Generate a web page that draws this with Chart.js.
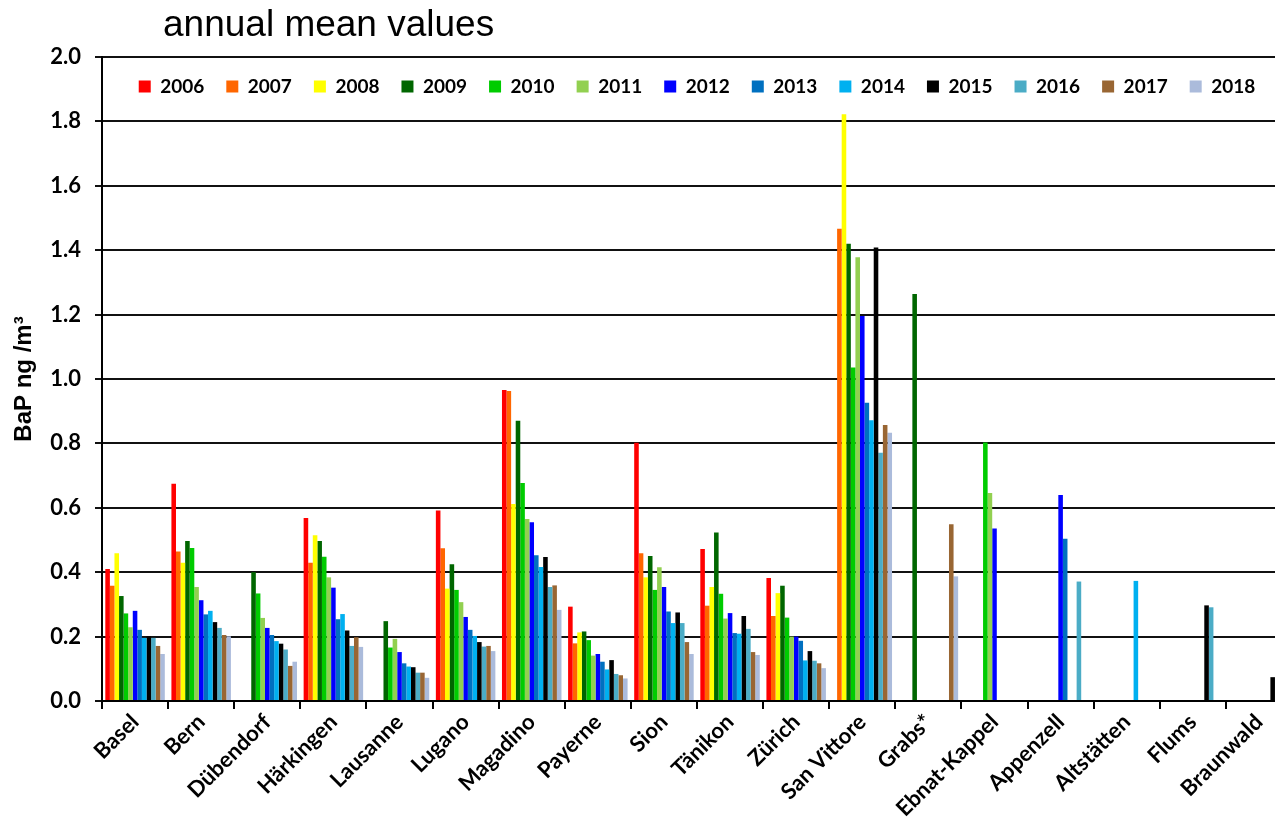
<!DOCTYPE html>
<html>
<head>
<meta charset="utf-8">
<title>BaP annual mean values</title>
<script src="https://cdn.jsdelivr.net/npm/chart.js@4.4.1/dist/chart.umd.min.js"></script>
<style>
  html, body { margin: 0; padding: 0; background: #fff; overflow: hidden; }
  #wrap { position: relative; width: 1300px; height: 834px; }
  #title {
    position: absolute; left: 163px; top: 5px;
    font: 37px/1 "Liberation Sans", Arial, sans-serif; color: #000;
    white-space: nowrap;
  }
</style>
</head>
<body>
<div id="wrap">
  <div id="title">annual mean values</div>
  <canvas id="chart" width="1300" height="834"></canvas>
</div>
<script>
// Stationen
const stations = ['Basel', 'Bern', 'Dübendorf', 'Härkingen', 'Lausanne', 'Lugano', 'Magadino', 'Payerne',
    'Sion', 'Tänikon', 'Zürich', 'San Vittore', 'Grabs*', 'Ebnat-Kappel', 'Appenzell', 'Altstätten',
    'Flums', 'Braunwald'];

const years = ['2006', '2007', '2008', '2009', '2010', '2011', '2012', '2013', '2014', '2015', '2016', '2017', '2018'];

const yearColors = ['#FF0000', '#FF6600', '#FFFF00', '#006600', '#00CC00', '#92D050', '#0000FF',
    '#0070C0', '#00B0F0', '#000000', '#4BACC6', '#996633', '#ABBBDB'];

const yTicks = [0, 0.2, 0.4, 0.6, 0.8, 1.0, 1.2, 1.4, 1.6, 1.8, 2.0];

// Jahresmittel BaP ng/m3, eine Liste pro Jahr (Reihenfolge wie stations)
const v2006 = [0.410, 0.675, null, 0.568, null, 0.592, 0.966, 0.293, 0.802, 0.472, 0.382, null, null, null, null, null, null, null];
const v2007 = [0.358, 0.464, null, 0.429, null, 0.474, 0.963, 0.179, 0.459, 0.296, 0.264, 1.467, null, null, null, null, null, null];
const v2008 = [0.459, 0.429, null, 0.515, null, 0.349, 0.612, 0.213, 0.384, 0.354, 0.335, 1.822, null, null, null, null, null, null];
const v2009 = [0.326, 0.497, 0.400, 0.497, 0.248, 0.425, 0.870, 0.216, 0.450, 0.523, 0.358, 1.420, 1.264, null, null, null, null, null];
const v2010 = [0.272, 0.475, 0.334, 0.448, 0.166, 0.345, 0.677, 0.189, 0.345, 0.333, 0.259, 1.036, null, 0.803, null, null, null, null];
const v2011 = [0.229, 0.354, 0.258, 0.384, 0.193, 0.307, 0.565, 0.141, 0.415, 0.256, 0.200, 1.378, null, 0.646, null, null, null, null];
const v2012 = [0.280, 0.313, 0.227, 0.352, 0.152, 0.261, 0.555, 0.146, 0.354, 0.273, 0.200, 1.196, null, 0.536, 0.640, null, null, null];
const v2013 = [0.221, 0.269, 0.205, 0.254, 0.117, 0.221, 0.453, 0.122, 0.278, 0.211, 0.187, 0.926, null, null, 0.504, null, null, null];
const v2014 = [0.196, 0.280, 0.186, 0.270, 0.107, 0.202, 0.416, 0.098, 0.242, 0.209, 0.126, 0.872, null, null, null, 0.373, null, null];
const v2015 = [0.201, 0.245, 0.178, 0.219, 0.105, 0.183, 0.447, 0.127, 0.275, 0.264, 0.155, 1.408, null, null, null, null, 0.297, 0.074];
const v2016 = [0.196, 0.227, 0.160, 0.171, 0.088, 0.169, 0.354, 0.084, 0.242, 0.224, 0.125, 0.771, null, null, 0.371, null, 0.291, null];
const v2017 = [0.171, 0.205, 0.109, 0.198, 0.088, 0.171, 0.359, 0.080, 0.183, 0.152, 0.117, 0.857, 0.549, null, null, null, null, null];
const v2018 = [0.146, 0.201, 0.122, 0.168, 0.072, 0.155, 0.283, 0.070, 0.146, 0.143, 0.102, 0.833, 0.387, null, null, null, null, null];

const seriesValues = [v2006, v2007, v2008, v2009, v2010, v2011, v2012, v2013, v2014, v2015, v2016, v2017, v2018];

// Legende liegt im Diagrammbereich, nimmt also keinen Platz im Layout ein
const legendInside = {
    id: 'legendInside',
    beforeLayout(chart) {
        const lg = chart.legend;
        if (lg && !lg._inside) {
            const fit = lg.fit;
            lg.fit = function () {
                fit.call(this);
                this.height = 0;
            };
            lg._inside = true;
        }
    },
    afterLayout(chart) {
        const lg = chart.legend;
        lg.top = chart.chartArea.top - 2;
        lg.height = 44;
        lg.bottom = lg.top + lg.height;
    }
};

const datasets = years.map((y, i) => ({
    label: y,
    data: seriesValues[i],
    backgroundColor: yearColors[i],
    borderWidth: 0,
    categoryPercentage: 0.9,
    barPercentage: 1.0
}));

const ctx = document.getElementById('chart').getContext('2d');

new Chart(ctx, {
    type: 'bar',
    data: { labels: stations, datasets: datasets },
    plugins: [legendInside],
    options: {
        responsive: false,
        animation: false,
        layout: { padding: { top: 57, right: 8, left: 0, bottom: 0 } },
        plugins: {
            title: { display: false },
            tooltip: { enabled: false },
            legend: {
                position: 'top',
                fullSize: false,
                labels: {
                    boxWidth: 12,
                    boxHeight: 12,
                    padding: 22,
                    color: '#000',
                    font: { family: 'Lato', weight: 'bold', size: 19 }
                }
            }
        },
        scales: {
            x: {
                grid: {
                    display: true,
                    drawOnChartArea: false,
                    drawTicks: true,
                    tickLength: 8,
                    color: '#000',
                    lineWidth: 2
                },
                border: { display: true, color: '#000', width: 2 },
                ticks: {
                    autoSkip: false,
                    maxRotation: 45,
                    minRotation: 45,
                    padding: 0,
                    color: '#000',
                    font: { family: 'Lato', weight: 'bold', size: 22 }
                },
                afterFit(scale) { scale.height = 133; }
            },
            y: {
                min: 0,
                max: 2,
                afterBuildTicks(scale) {
                    scale.ticks = yTicks.map(v => ({ value: v }));
                },
                grid: {
                    color: '#111',
                    lineWidth: 2,
                    drawTicks: true,
                    tickLength: 7
                },
                border: { display: true, color: '#000', width: 2 },
                ticks: {
                    padding: 14,
                    color: '#000',
                    font: { family: 'Lato', weight: 'bold', size: 22 },
                    callback: v => v.toFixed(1)
                },
                title: {
                    display: true,
                    text: 'BaP ng /m³',
                    color: '#000',
                    font: { family: 'Liberation Sans', weight: 'bold', size: 24 },
                    padding: { top: 10, bottom: 0 }
                },
                afterFit(scale) { scale.width = 102; }
            }
        }
    }
});
</script>
</body>
</html>
